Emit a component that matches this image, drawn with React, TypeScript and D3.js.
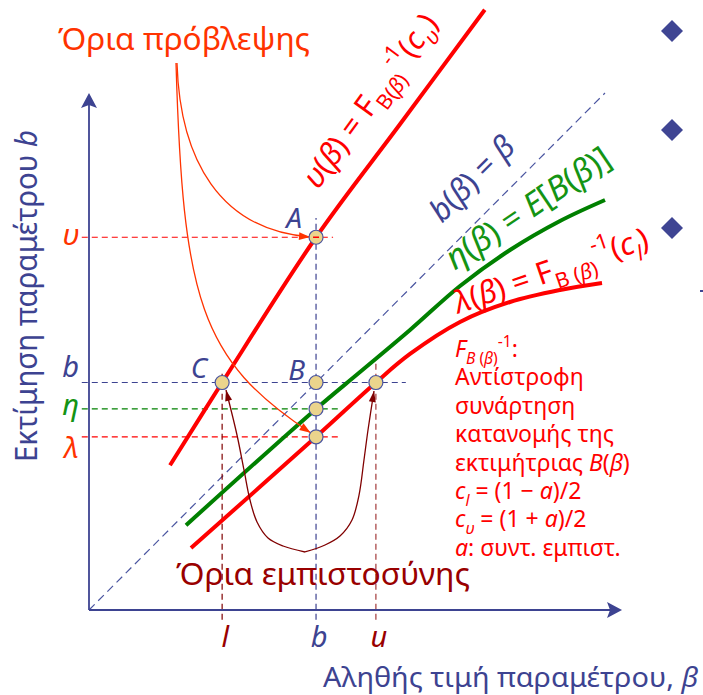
import React from 'react';
import * as d3 from 'd3';

const W = 703;
const H = 695;

// ---- values (data units: true value β on x, estimate b on y) ----
const bEst = 4.4;        // estimate b
const lLimit = 2.58;     // lower confidence limit l
const uLimit = 5.56;     // upper confidence limit u
const etaVal = 3.89;     // η
const lambdaVal = 3.35;  // λ
const upsVal = 7.21;     // υ
const axisMaxX = 10.33;
const axisMaxY = 10;

const upperCurve: [number, number][] = [[1.57, 2.8], [2.58, 4.4], [4.4, 7.21], [6.03, 9.4], [7.67, 11.61]];
const etaCurve: [number, number][] = [[1.88, 1.64], [4.4, 3.89], [5.252, 4.603], [6.221, 5.416], [7.19, 6.267], [8.159, 6.963], [9.128, 7.524], [10.0, 7.93]];
const lowerCurve: [number, number][] = [[1.977, 1.199], [4.4, 3.35], [5.56, 4.4], [6.221, 4.952], [7.19, 5.571], [8.159, 5.957], [9.128, 6.19], [9.942, 6.325]];
const identityLine: [number, number][] = [[0, 0], [10, 10]];

// guide line extents
const hGuideValues = [upsVal, bEst, etaVal, lambdaVal];
const hGuideEnds = [4.73, 6.14, 4.83, 4.83];
const hGuideStart = -0.14;
const vGuideValues = [lLimit, bEst, uLimit];
const vGuideTops = [4.58, 7.58, 4.78];
const vGuideBottom = -0.19;

const pointsX = [lLimit, bEst, uLimit, bEst, bEst, bEst];
const pointsY = [bEst, bEst, bEst, upsVal, etaVal, lambdaVal];

const yTickLabels = ['υ', 'b', 'η', 'λ'];
const yTickValues = [upsVal, bEst, etaVal, lambdaVal];
const xTickLabels = ['l', 'b', 'u'];
const xTickValues = [lLimit, bEst, uLimit];

const pointLabels = ['A', 'C', 'B'];
const pointLabelX = [bEst, lLimit, bEst];
const pointLabelY = [upsVal, bEst, bEst];

// annotation arrows (data units)
const predArrowA: [number, number][] = [[1.705, 10.58], [1.764, 8.7], [2.539, 7.35], [4.283, 7.215]];
const predArrowL: [number, number][] = [[1.686, 10.58], [1.822, 6.0], [2.151, 4.84], [4.293, 3.43]];
const confArrowC: [number, number][] = [[4.186, 1.122], [3.76, 1.238], [3.469, 1.393], [3.256, 1.702], [3.12, 2.128], [3.004, 2.708], [2.868, 3.385], [2.655, 4.255]];
const confArrowU: [number, number][] = [[4.186, 1.122], [4.574, 1.257], [4.864, 1.431], [5.097, 1.741], [5.233, 2.224], [5.329, 2.901], [5.407, 3.482], [5.523, 4.236]];

const FONT = "'Noto Sans', 'DejaVu Sans', sans-serif";
const BLUE = '#3d4391';
const RED = '#ff0000';
const ORANGE = '#ff3300';
const GREEN_LINE = '#008000';
const GREEN_TEXT = '#149414';
const DARKRED = '#990000';
const BROWN = '#800000';

type Seg = { t: string; it?: boolean; pos?: 'sub' | 'sup' };

function Formula(props: { segs: Seg[]; fs: number; fill: string; transform?: string; x?: number; y?: number }) {
  const { segs, fs, fill, transform, x, y } = props;
  let cur = 0;
  return (
    <text x={x ?? 0} y={y ?? 0} fontSize={fs} fill={fill} transform={transform} fontFamily={FONT}>
      {segs.map((s, i) => {
        const target = s.pos === 'sub' ? fs * 0.3 : s.pos === 'sup' ? -fs * 0.45 : 0;
        const dy = target - cur;
        cur = target;
        return (
          <tspan key={i} dy={dy !== 0 ? dy : undefined} fontStyle={s.it ? 'italic' : undefined}
            fontSize={s.pos ? fs * 0.68 : undefined} style={{ whiteSpace: 'pre' }}>{s.t}</tspan>
        );
      })}
    </text>
  );
}

const upperLabel: Seg[] = [
  { t: 'υ', it: true }, { t: '(' }, { t: 'β', it: true }, { t: ') = F' },
  { t: 'B(', pos: 'sub' }, { t: 'β', it: true, pos: 'sub' }, { t: ')', pos: 'sub' }, { t: '-1', pos: 'sup' },
  { t: '(' }, { t: 'c', it: true }, { t: 'υ', it: true, pos: 'sub' }, { t: ')' },
];
const lowerLabel: Seg[] = [
  { t: 'λ', it: true }, { t: '(' }, { t: 'β', it: true }, { t: ') = F' },
  { t: 'B (', pos: 'sub' }, { t: 'β', it: true, pos: 'sub' }, { t: ')', pos: 'sub' }, { t: '-1', pos: 'sup' },
  { t: '(' }, { t: 'c', it: true }, { t: 'l', it: true, pos: 'sub' }, { t: ')' },
];
const etaLabel: Seg[] = [
  { t: 'η', it: true }, { t: '(' }, { t: 'β', it: true }, { t: ') = ' }, { t: 'E', it: true },
  { t: '[' }, { t: 'B', it: true }, { t: '(' }, { t: 'β', it: true }, { t: ')]' },
];
const identLabel: Seg[] = [
  { t: 'b', it: true }, { t: '(' }, { t: 'β', it: true }, { t: ') = ' }, { t: 'β', it: true },
];

const noteLines: Seg[][] = [
  [{ t: 'F', it: true }, { t: 'B', it: true, pos: 'sub' }, { t: ' (', pos: 'sub' }, { t: 'β', it: true, pos: 'sub' }, { t: ')', pos: 'sub' }, { t: '-1', pos: 'sup' }, { t: ':' }],
  [{ t: 'Αντίστροφη' }],
  [{ t: 'συνάρτηση' }],
  [{ t: 'κατανομής της' }],
  [{ t: 'εκτιμήτριας ' }, { t: 'B', it: true }, { t: '(' }, { t: 'β', it: true }, { t: ')' }],
  [{ t: 'c', it: true }, { t: 'l', it: true, pos: 'sub' }, { t: ' = (1 − ' }, { t: 'a', it: true }, { t: ')/2' }],
  [{ t: 'c', it: true }, { t: 'υ', it: true, pos: 'sub' }, { t: ' = (1 + ' }, { t: 'a', it: true }, { t: ')/2' }],
  [{ t: 'a', it: true }, { t: ': συντ. εμπιστ.' }],
];

const bulletYs = [31, 130, 228];

export default function App() {
  const x = d3.scaleLinear().domain([0, 10]).range([89, 605]);
  const y = d3.scaleLinear().domain([0, 10]).range([610, 93]);

  const smooth = d3.line<[number, number]>().x((d) => x(d[0])).y((d) => y(d[1])).curve(d3.curveCatmullRom.alpha(0.5));
  const straight = d3.line<[number, number]>().x((d) => x(d[0])).y((d) => y(d[1]));

  const bez = (c: [number, number][]) => {
    const p = d3.path();
    p.moveTo(x(c[0][0]), y(c[0][1]));
    p.bezierCurveTo(x(c[1][0]), y(c[1][1]), x(c[2][0]), y(c[2][1]), x(c[3][0]), y(c[3][1]));
    return p.toString();
  };
  const head = (c: [number, number][], len: number, w: number) => {
    const k = c.length - 1;
    const tx = x(c[k][0]), ty = y(c[k][1]);
    const px = x(c[k - 1][0]), py = y(c[k - 1][1]);
    const dx = tx - px, dy = ty - py;
    const n = Math.hypot(dx, dy);
    const ux = dx / n, uy = dy / n;
    const bx = tx - ux * len, by = ty - uy * len;
    return `M${tx},${ty}L${bx - uy * w / 2},${by + ux * w / 2}L${bx + uy * w / 2},${by - ux * w / 2}Z`;
  };

  const hColors = [RED, BLUE, GREEN_LINE, RED];
  const vColors = [BROWN, BLUE, '#a33a3a'];
  const yTickColors = [ORANGE, BLUE, GREEN_TEXT, ORANGE];
  const yTickDy = [8, -6, 6, 21];
  const xTickColors = [DARKRED, BLUE, DARKRED];
  const labelDx = [-14, -15, -11];
  const labelDy = [-9, -5, -3];

  const x0 = x(0), y0 = y(0);
  const xEnd = x(axisMaxX), yEnd = y(axisMaxY);

  return (
    <svg width={W} height={H} style={{ position: 'absolute', left: 0, top: 0, background: '#fff' }} fontFamily={FONT}>
      <rect width={W} height={H} fill="#fff" />

      {/* bullets */}
      {bulletYs.map((by, i) => (
        <path key={i} d={`M672,${by - 11}L683,${by}L672,${by + 11}L661,${by}Z`} fill="#3f4593" />
      ))}
      <rect x={700} y={290} width={3} height={2} fill="#3f4593" />

      {/* identity line */}
      <path d={straight(identityLine) ?? ''} fill="none" stroke="#4a55a0" strokeWidth={1.2} strokeDasharray="8,5" />

      {/* guides */}
      {hGuideValues.map((v, i) => (
        <line key={'h' + i} x1={x(hGuideStart)} x2={x(hGuideEnds[i])} y1={y(v)} y2={y(v)}
          stroke={hColors[i]} strokeWidth={1.2} strokeDasharray="6,4" />
      ))}
      {vGuideValues.map((v, i) => (
        <line key={'v' + i} x1={x(v)} x2={x(v)} y1={y(vGuideBottom)} y2={y(vGuideTops[i])}
          stroke={vColors[i]} strokeWidth={1.2} strokeDasharray="6,4" />
      ))}

      {/* axes */}
      <line x1={x0} y1={y0} x2={x0} y2={yEnd + 10} stroke={BLUE} strokeWidth={1.8} />
      <line x1={x0} y1={y0} x2={xEnd - 10} y2={y0} stroke={BLUE} strokeWidth={1.8} />
      <path d={`M${x0},${yEnd}L${x0 - 8},${yEnd + 15}L${x0},${yEnd + 12}L${x0 + 8},${yEnd + 15}Z`} fill={BLUE} />
      <path d={`M${xEnd},${y0}L${xEnd - 15},${y0 - 8}L${xEnd - 12},${y0}L${xEnd - 15},${y0 + 8}Z`} fill={BLUE} />

      {/* curves */}
      <path d={smooth(upperCurve) ?? ''} fill="none" stroke={RED} strokeWidth={4} />
      <path d={smooth(etaCurve) ?? ''} fill="none" stroke={GREEN_LINE} strokeWidth={4} />
      <path d={smooth(lowerCurve) ?? ''} fill="none" stroke={RED} strokeWidth={4} />

      {/* prediction arrows */}
      {[predArrowA, predArrowL].map((c, i) => (
        <g key={'pa' + i}>
          <path d={bez(c)} fill="none" stroke={ORANGE} strokeWidth={1.3} />
          <path d={head(c, 11, 8)} fill={ORANGE} />
        </g>
      ))}
      {/* confidence arrows */}
      {[confArrowC, confArrowU].map((c, i) => (
        <g key={'ca' + i}>
          <path d={smooth(c) ?? ''} fill="none" stroke={BROWN} strokeWidth={1.3} />
          <path d={head(c, 11, 7)} fill={BROWN} />
        </g>
      ))}

      {/* points */}
      {pointsX.map((px, i) => (
        <circle key={'p' + i} cx={x(px)} cy={y(pointsY[i])} r={7} fill="#ebd48c" stroke="#4a55a0" strokeWidth={1.2} />
      ))}
      <line x1={x(bEst) - 3} x2={x(bEst) + 3} y1={y(upsVal)} y2={y(upsVal)} stroke={RED} strokeWidth={1.5} />

      {/* point labels */}
      {pointLabels.map((t, i) => (
        <text key={'pl' + i} x={x(pointLabelX[i]) + labelDx[i]} y={y(pointLabelY[i]) + labelDy[i]} textAnchor="end"
          fontSize={28} fontStyle="italic" fill={BLUE}>{t}</text>
      ))}

      {/* y tick labels */}
      {yTickLabels.map((t, i) => (
        <text key={'yt' + i} x={79} y={y(yTickValues[i]) + yTickDy[i]} textAnchor="end" fontSize={29}
          fontStyle="italic" fill={yTickColors[i]}>{t}</text>
      ))}
      {/* x tick labels */}
      {xTickLabels.map((t, i) => (
        <text key={'xt' + i} x={x(xTickValues[i]) + 3} y={647} textAnchor="middle" fontSize={29}
          fontStyle="italic" fill={xTickColors[i]}>{t}</text>
      ))}

      {/* curve labels */}
      <Formula segs={upperLabel} fs={31} fill={RED} transform={`translate(${x(4.44)},${y(8.12)}) rotate(-54)`} />
      <Formula segs={identLabel} fs={31} fill={BLUE} transform={`translate(${x(6.84)},${y(7.47)}) rotate(-45)`} />
      <Formula segs={etaLabel} fs={33} fill={GREEN_TEXT} transform={`translate(${x(7.09)},${y(6.56)}) rotate(-34)`} />
      <Formula segs={lowerLabel} fs={31} fill={RED} transform={`translate(${x(7.15)},${y(5.73)}) rotate(-19)`} />

      {/* note block */}
      {noteLines.map((segs, i) => (
        <Formula key={'n' + i} segs={segs} fs={23} fill={RED} x={455} y={357 + i * 28.4} />
      ))}

      {/* titles */}
      <text x={58} y={50} fontSize={31} fill={ORANGE} textLength={252} lengthAdjust="spacingAndGlyphs">Όρια πρόβλεψης</text>
      <text x={176} y={585} fontSize={31} fill={DARKRED} textLength={294} lengthAdjust="spacingAndGlyphs">Όρια εμπιστοσύνης</text>
      <text transform="translate(37,462) rotate(-90)" fontSize={30} fill={BLUE} textLength={332} lengthAdjust="spacingAndGlyphs">
        Εκτίμηση παραμέτρου <tspan fontStyle="italic">b</tspan>
      </text>
      <text x={323} y={687} fontSize={27} fill={BLUE} textLength={375} lengthAdjust="spacingAndGlyphs">
        Αληθής τιμή παραμέτρου, <tspan fontStyle="italic">β</tspan>
      </text>
    </svg>
  );
}
